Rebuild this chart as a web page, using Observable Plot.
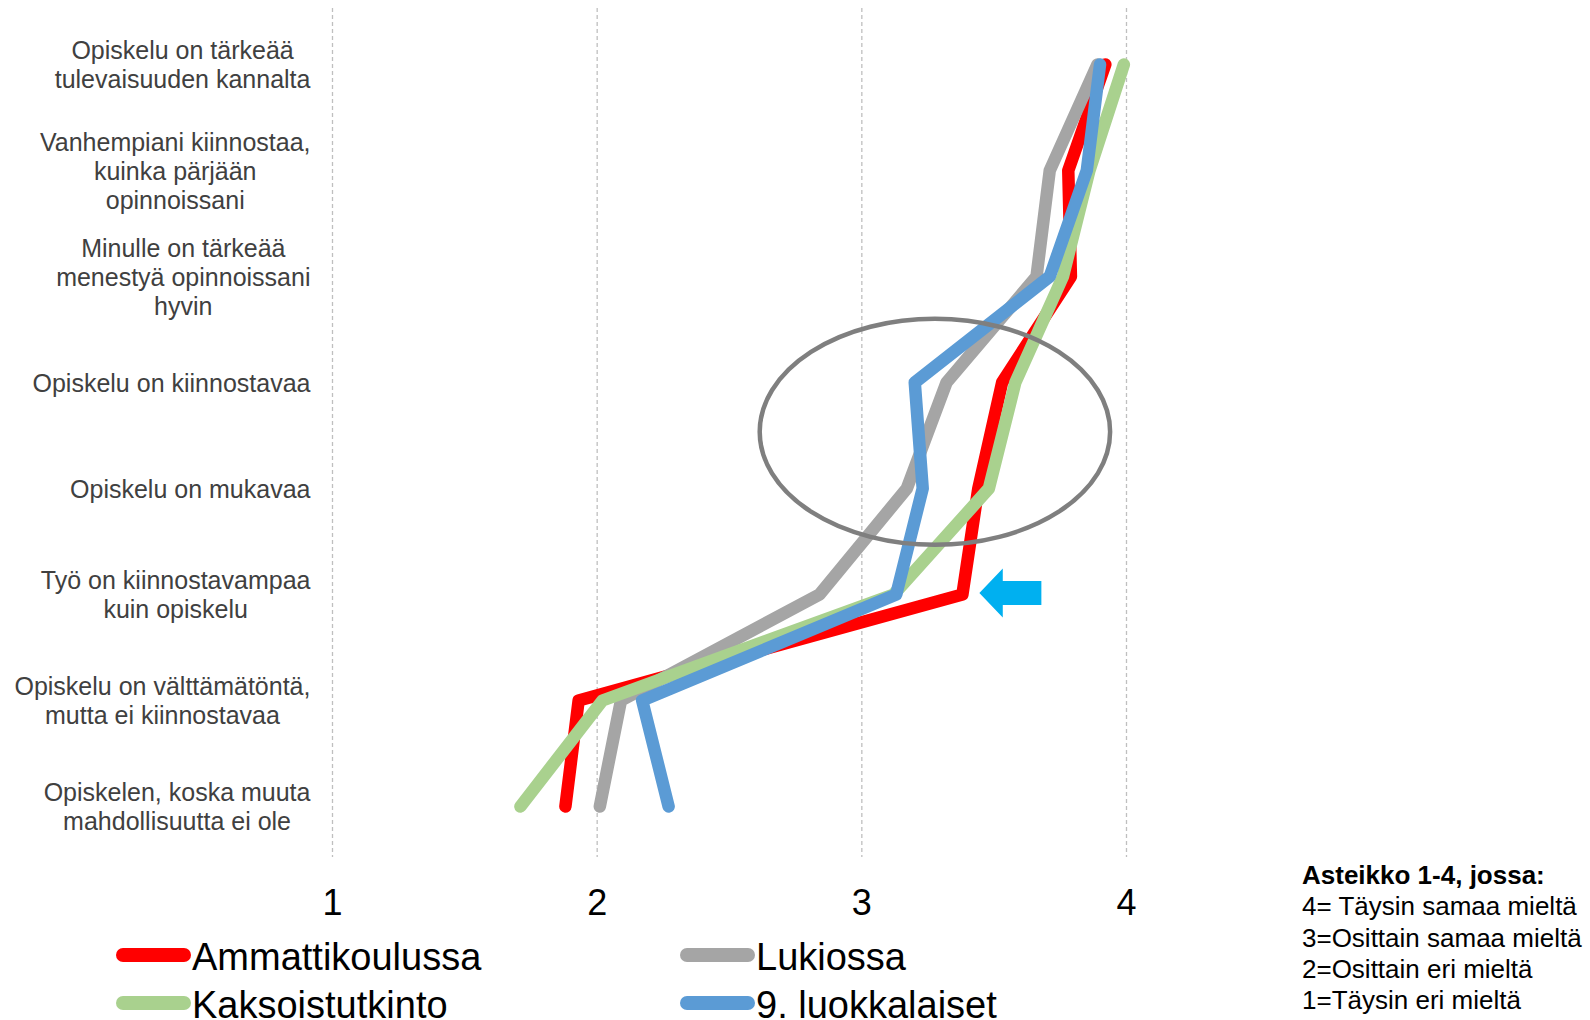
<!DOCTYPE html>
<html><head><meta charset="utf-8">
<script src="https://cdn.jsdelivr.net/npm/d3@7"></script>
<script src="https://cdn.jsdelivr.net/npm/@observablehq/plot@0.6"></script>
<style>
body{margin:0;background:#fff;font-family:"Liberation Sans",Arial,sans-serif;}
#wrap{position:relative;width:1590px;height:1020px;overflow:hidden;background:#fff;}
#wrap svg{position:absolute;left:0;top:0;}
.sw{position:absolute;height:14px;border-radius:7px;}
.lt{position:absolute;font-size:38px;line-height:38px;color:#000;white-space:nowrap;}
.note{position:absolute;left:1302px;font-size:26px;line-height:26px;color:#000;white-space:nowrap;}
</style>
</head><body><div id="wrap"></div>
<script>
const categories = [
  "Opiskelu on tärkeää\ntulevaisuuden kannalta",
  "Vanhempiani kiinnostaa,\nkuinka pärjään\nopinnoissani",
  "Minulle on tärkeää\nmenestyä opinnoissani\nhyvin",
  "Opiskelu on kiinnostavaa",
  "Opiskelu on mukavaa",
  "Työ on kiinnostavampaa\nkuin opiskelu",
  "Opiskelu on välttämätöntä,\nmutta ei kiinnostavaa",
  "Opiskelen, koska muuta\nmahdollisuutta ei ole"
];
const seriesNames = ["Ammattikoulussa", "Lukiossa", "Kaksoistutkinto", "9. luokkalaiset"];
const seriesColors = ["#FF0000", "#A5A5A5", "#A9D18E", "#5B9BD5"];
const ammattikoulussa = [3.92, 3.78, 3.79, 3.53, 3.44, 3.38, 1.93, 1.88];
const lukiossa       = [3.89, 3.71, 3.66, 3.32, 3.17, 2.84, 2.09, 2.01];
const kaksoistutkinto = [3.99, 3.86, 3.76, 3.58, 3.48, 3.12, 2.02, 1.71];
const luokkalaiset9  = [3.90, 3.85, 3.71, 3.20, 3.23, 3.13, 2.17, 2.27];
const xTicks = [1, 2, 3, 4];
const scaleNote = ["Asteikko 1-4, jossa:", "4= Täysin samaa mieltä", "3=Osittain samaa mieltä", "2=Osittain eri mieltä", "1=Täysin eri mieltä"];

// annotation anchors (data units)
const ellipseCenterX = 3.278, ellipseRadiusX = 0.662;
const ellipseBetween = [3, 4], ellipseFrac = 0.47, ellipseRadiusBands = 1.066;
const arrowTipX = 3.446, arrowCategory = 5;

const allSeries = [ammattikoulussa, lukiossa, kaksoistutkinto, luokkalaiset9];
const rows = allSeries.map((vals, s) => vals.map((v, i) => ({series: seriesNames[s], cat: categories[i], v})));

const font = '"Liberation Sans", Arial, sans-serif';
const plot = Plot.plot({
  width: 1590, height: 930,
  marginLeft: 332, marginRight: 464, marginTop: 8, marginBottom: 73,
  style: {fontFamily: font, background: "transparent", overflow: "visible", color: "#000"},
  x: {domain: [1, 4], label: null},
  y: {type: "point", domain: categories, range: [63, 807], padding: 0, axis: null},
  marks: [
    Plot.ruleX(xTicks, {stroke: "#bfbfbf", strokeWidth: 1.3, strokeDasharray: "4,3"}),
    Plot.axisX({ticks: xTicks, tickFormat: d => String(d), tickSize: 0, tickPadding: 32, fontSize: 36, label: null, fill: "#000"}),
    Plot.text(categories, {y: d => d, text: d => d, frameAnchor: "left", textAnchor: "end", dx: -22,
      fontSize: 25, lineHeight: 1.16, fill: "#404040"}),
    ...rows.map((r, s) => Plot.line(r, {x: "v", y: "cat", stroke: seriesColors[s], strokeWidth: 12.5,
      strokeLinecap: "round", strokeLinejoin: "round"}))
  ]
});
const wrap = document.getElementById("wrap");
wrap.appendChild(plot);

// center each label's lines within its block, block right-aligned
d3.select(plot).selectAll('g[aria-label="text"] text').each(function() {
  const w = this.getBBox().width;
  this.setAttribute("text-anchor", "middle");
  this.setAttribute("transform", (this.getAttribute("transform") || "") + ` translate(${-w / 2},0)`);
});

// annotations via scales
const sx = plot.scale("x"), sy = plot.scale("y");
const y4 = sy.apply(categories[ellipseBetween[0]]), y5 = sy.apply(categories[ellipseBetween[1]]);
const band = y5 - y4;
const svg = d3.select(plot);
svg.append("ellipse")
  .attr("cx", sx.apply(ellipseCenterX))
  .attr("cy", y4 + ellipseFrac * band)
  .attr("rx", sx.apply(ellipseCenterX + ellipseRadiusX) - sx.apply(ellipseCenterX))
  .attr("ry", ellipseRadiusBands * band)
  .attr("fill", "none").attr("stroke", "#7f7f7f").attr("stroke-width", 4.5);
const tx = sx.apply(arrowTipX), ty = sy.apply(categories[arrowCategory]) - 1;
const arrowShape = [[0,0],[23.4,-24.4],[23.4,-12],[62,-12],[62,12],[23.4,12],[23.4,24.4]];
svg.append("polygon")
  .attr("points", arrowShape.map(([a,b]) => `${tx + a},${ty + b}`).join(" "))
  .attr("fill", "#00B0F0");

// legend
const legendPos = [[116, 955], [680, 955], [116, 1003], [680, 1003]];
const legendOrder = [0, 1, 2, 3];
legendOrder.forEach((s, k) => {
  const [lx, ly] = legendPos[k];
  const sw = document.createElement("div");
  sw.className = "sw";
  sw.style.left = lx + "px"; sw.style.top = (ly - 7) + "px"; sw.style.width = "75px";
  sw.style.background = seriesColors[s];
  wrap.appendChild(sw);
  const t = document.createElement("div");
  t.className = "lt";
  t.style.left = (lx + 76) + "px"; t.style.top = (ly + 2 - 19) + "px";
  t.textContent = seriesNames[s];
  wrap.appendChild(t);
});

// scale note
scaleNote.forEach((line, i) => {
  const d = document.createElement("div");
  d.className = "note";
  d.style.top = (875 + i * 31.3 - 13) + "px";
  if (i === 0) d.style.fontWeight = "bold";
  d.textContent = line;
  wrap.appendChild(d);
});
</script>
</body></html>
